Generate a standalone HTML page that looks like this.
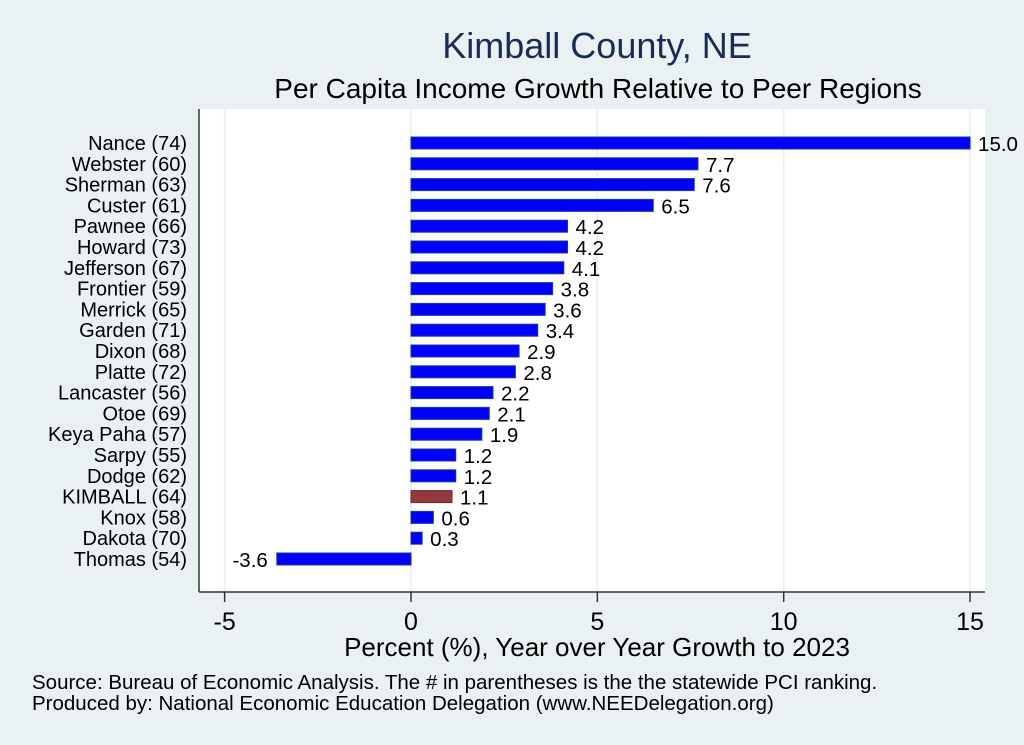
<!DOCTYPE html>
<html><head><meta charset="utf-8"><style>
body{margin:0;background:#eaf1f3;font-family:"Liberation Sans",sans-serif}
svg{display:block}
</style></head><body>
<svg id="c" width="1024" height="745" xmlns="http://www.w3.org/2000/svg">
<rect width="1024" height="745" fill="#eaf1f3"/>
<text x="597" y="58" font-size="36" fill="#1a2b55" text-anchor="middle">Kimball County, NE</text>
<text x="598" y="98" font-size="28" fill="#000" text-anchor="middle">Per Capita Income Growth Relative to Peer Regions</text>
<rect x="199" y="109" width="786" height="483" fill="#fff"/>
<g id="grid"></g><g id="bars"></g><g id="labels"></g>
<line x1="199" y1="109" x2="199" y2="592" stroke="#333" stroke-width="1.5"/>
<line x1="199" y1="592" x2="985" y2="592" stroke="#333" stroke-width="1.5"/>
<g id="ticks"></g>
<text x="597" y="656" font-size="26" text-anchor="middle">Percent (%), Year over Year Growth to 2023</text>
<text x="32" y="689" font-size="20.5">Source: Bureau of Economic Analysis. The # in parentheses is the the statewide PCI ranking.</text>
<text x="32" y="710" font-size="20.5">Produced by: National Economic Education Delegation (www.NEEDelegation.org)</text>
</svg>
<script>
const categories=["Nance (74)","Webster (60)","Sherman (63)","Custer (61)","Pawnee (66)","Howard (73)","Jefferson (67)","Frontier (59)","Merrick (65)","Garden (71)","Dixon (68)","Platte (72)","Lancaster (56)","Otoe (69)","Keya Paha (57)","Sarpy (55)","Dodge (62)","KIMBALL (64)","Knox (58)","Dakota (70)","Thomas (54)"];
const values=[15.0,7.7,7.6,6.5,4.2,4.2,4.1,3.8,3.6,3.4,2.9,2.8,2.2,2.1,1.9,1.2,1.2,1.1,0.6,0.3,-3.6];
const valueLabels=["15.0","7.7","7.6","6.5","4.2","4.2","4.1","3.8","3.6","3.4","2.9","2.8","2.2","2.1","1.9","1.2","1.2","1.1","0.6","0.3","-3.6"];
const tickValues=[-5,0,5,10,15];
const tickLabels=["-5","0","5","10","15"];
const highlight="KIMBALL (64)";
const NS="http://www.w3.org/2000/svg";
const xs=v=>411+v*37.27;
const ys=i=>143+i*20.8;
function mk(t,a,p,txt){const e=document.createElementNS(NS,t);for(const k in a)e.setAttribute(k,a[k]);if(txt!==undefined)e.textContent=txt;document.getElementById(p).appendChild(e);return e;}
tickValues.forEach((v,i)=>{
 const g=mk('line',{x1:xs(v),x2:xs(v),y1:109,y2:592,stroke:'#e6eef2','stroke-width':1.5},'grid');
 
 
 const t=mk('line',{x1:xs(v),x2:xs(v),y1:592,y2:602,stroke:'#333','stroke-width':1.5},'ticks');
 
 
 const l=mk('text',{x:xs(v),y:630,'font-size':25,'text-anchor':'middle'},'ticks',tickLabels[i]);
 
 
});
categories.forEach((c,i)=>{
 const v=values[i],y=ys(i);
 const x0=Math.min(xs(0),xs(v)),w=Math.abs(xs(v)-xs(0));
 const b=mk('rect',{x:x0,y:y-6,width:w,height:12,fill:c===highlight?'#943a3e':'#0000ff',stroke:c===highlight?'#6a2a2d':'#1a3a8a','stroke-width':1},'bars');
 
 
 const cl=mk('text',{x:187,y:y+7,'font-size':20,'text-anchor':'end'},'labels',c);
 
 
 const vl=mk('text',{x:v>=0?xs(v)+8:xs(v)-9,y:y+8,'font-size':20.5,'text-anchor':v>=0?'start':'end'},'labels',valueLabels[i]);
 
 
});
</script>
</body></html>
